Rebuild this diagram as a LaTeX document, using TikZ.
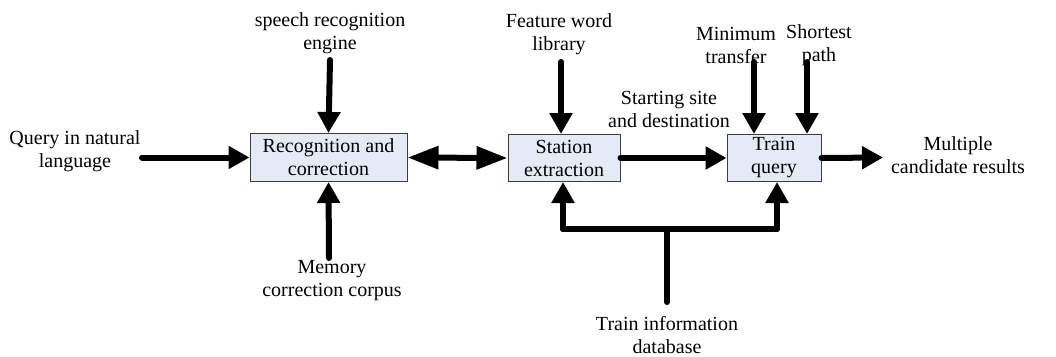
\documentclass[tikz,border=0pt]{standalone}
\usepackage{fontspec}
\setmainfont{Liberation Serif}
\usetikzlibrary{arrows.meta}
\definecolor{boxfill}{RGB}{228,235,247}
\definecolor{boxline}{RGB}{60,60,60}
\begin{document}
\begin{tikzpicture}[x=1pt,y=-1pt,
  proc/.style={draw=boxline,line width=1pt,fill=boxfill,inner sep=0pt,align=center,font=\fontsize{20}{23}\selectfont},
  lbl/.style={align=center,inner sep=0pt,font=\fontsize{20}{23}\selectfont},
  arr/.style={line width=6pt,line cap=round,line join=round,-{Triangle[length=21pt,width=22pt]}},
  dbl/.style={line width=6pt,{Triangle[length=31pt,width=22pt]}-{Triangle[length=31pt,width=22pt]}},
  ln/.style={line width=6pt,line cap=round,line join=round}]
\useasboundingbox (0,0) rectangle (1056,356);
\node[proc,minimum width=157pt,minimum height=48pt] (rec) at (328.5,157.5) {Recognition and\\correction};
\node[proc,minimum width=112pt,minimum height=47pt] (sta) at (564,158) {Station\\extraction};
\node[proc,minimum width=94pt,minimum height=47pt] (tq) at (774,158) {Train\\query};

\node[lbl] (query) at (75,151) {Query in natural\\language};
\node[lbl] (speech) at (330,33) {speech recognition\\engine};
\node[lbl] (mem) at (332,281) {Memory\\correction corpus};
\node[lbl] (feat) at (559,34) {Feature word\\library};
\node[lbl] (start) at (669,109) {Starting site\\and destination};
\node[lbl] (mini) at (736,45) {Minimum\\transfer};
\node[lbl] (short) at (819,45) {Shortest\\path};
\node[lbl] (multi) at (958,155) {Multiple\\candidate results};
\node[lbl] (tdb) at (667,335) {Train information\\database};

\coordinate (qt) at (142,157.5);
\coordinate (st) at (330,60);
\coordinate (mt) at (329,258);
\coordinate (ft) at (561,62);
\coordinate (mint) at (754,62);
\coordinate (sht) at (807,62);
\coordinate (oe) at (883,157.5);
\coordinate (bl) at (563,229);
\coordinate (br) at (777,229);
\coordinate (bm) at (667,229);
\coordinate (bb) at (667,302);

\draw[arr] (qt) -- (rec.west);
\draw[arr] (st) -- (rec.north);
\draw[arr] (mt) -- (rec.south);
\draw[dbl] (rec.east) -- (sta.west);
\draw[arr] (ft) -- (sta.north -| ft);
\draw[arr] (sta.east) -- (tq.west);
\draw[arr] (mint) -- (tq.north -| mint);
\draw[arr] (sht) -- (tq.north -| sht);
\draw[arr] (tq.east) -- (oe);
\draw[arr] (bl) -- (sta.south -| bl);
\draw[ln] (bl) -- (br);
\draw[arr] (br) -- (tq.south -| br);
\draw[ln] (bm) -- (bb);
\end{tikzpicture}
\end{document}
